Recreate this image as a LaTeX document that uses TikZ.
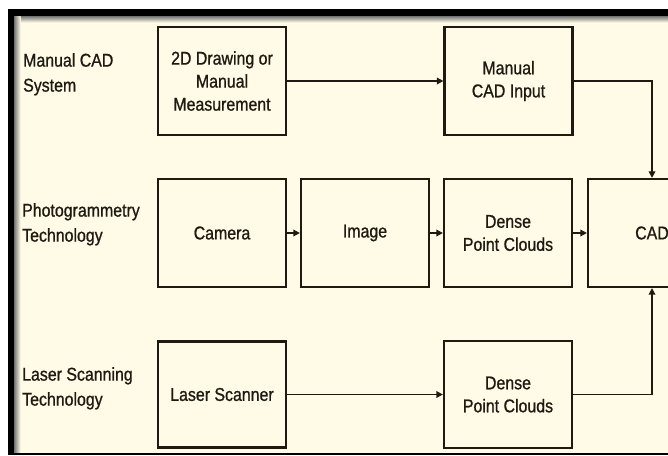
\documentclass[tikz,border=0pt]{standalone}
\usepackage{fontspec}
\setmainfont[FakeStretch=0.86,FakeBold=0.9]{Liberation Sans}
\usetikzlibrary{arrows.meta,shadows}

\definecolor{cream}{HTML}{FFFBE6}
\definecolor{ink}{HTML}{1E1A12}

\begin{document}
\begin{tikzpicture}[x=1pt,y=-1pt,
  labeltext/.style={anchor=north west,inner sep=0pt,align=left,text=ink,
    font=\fontsize{18.5}{25}\selectfont},
  stagebox/.style={draw=ink,line width=2.2pt,fill=cream,inner sep=0pt,
    minimum width=128pt,minimum height=108pt,align=center,text=ink,
    font=\fontsize{18.5}{23}\selectfont,
    drop shadow={shadow xshift=0.8pt,shadow yshift=-1.4pt,fill=ink,opacity=0.9}},
  flow/.style={draw=ink,line width=1.7pt,-{Triangle[length=6.5pt,width=6.5pt]}}]

% frame and page
\clip (0,0) rectangle (668,455);
\fill[white] (0,0) rectangle (668,455);
\fill[black] (7.5,9) rectangle (668,455);
\fill[cream] (14,16) rectangle (668,452.5);
\shade[top color=black!55,bottom color=cream] (14,16) rectangle (668,22.5);
\shade[left color=black!55,right color=cream] (14,16) rectangle (20.5,452.5);
\fill[cream] (20.5,22.5) rectangle (668,452.5);

% row captions
\node[labeltext] (capman) at (23,53) {Manual CAD\\System};
\node[labeltext] (capphoto) at (22,203) {Photogrammetry\\Technology};
\node[labeltext] (caplaser) at (22,367) {Laser Scanning\\Technology};

% process stages
\node[stagebox] (draw2d) at (222,81) {2D Drawing or\\Manual\\Measurement};
\node[stagebox] (mcadin) at (508.5,81) {Manual\\CAD Input};
\node[stagebox] (camera) at (222,233) {Camera};
\node[stagebox] (image) at (365,233) {Image};
\node[stagebox] (dense1) at (508,233) {Dense\\Point Clouds};
\node[stagebox] (cad) at (652,233) {CAD};
\node[stagebox,minimum height=106pt] (scanner) at (222,394.5) {Laser Scanner};
\node[stagebox,minimum height=107pt] (dense2) at (508,394.5) {Dense\\Point Clouds};

% connectors
\draw[flow] (draw2d) -- (mcadin);
\draw[flow] (mcadin.east) -| (cad.north);
\draw[flow] (camera) -- (image);
\draw[flow] (image) -- (dense1);
\draw[flow] (dense1) -- (cad);
\draw[flow] (scanner) -- (dense2);
\draw[flow] (dense2.east) -| (cad.south);
\end{tikzpicture}
\end{document}
